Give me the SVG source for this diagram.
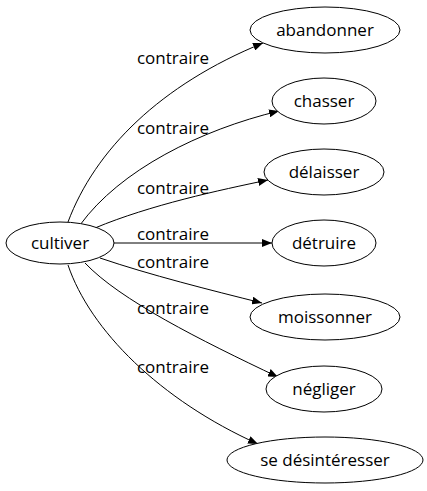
<svg xmlns="http://www.w3.org/2000/svg" width="427" height="491" viewBox="0 0 427 491">
<style>
text{font-family:"Open Sans","DejaVu Sans",sans-serif;font-size:17px;fill:#000;text-anchor:middle}
ellipse{fill:#fff;stroke:#000;stroke-width:1}
.e path{fill:none;stroke:#000;stroke-width:1}
</style>
<defs>
<marker id="a" markerWidth="10" markerHeight="8" refX="10" refY="4" orient="auto" markerUnits="userSpaceOnUse">
<path d="M0,0 L10,4 L0,8 Z" fill="#000"/>
</marker>
</defs>
<rect width="427" height="491" fill="#fff"/>
<g class="e" id="edges">
<path d="M68,222 C95,150 160,85 263,43" marker-end="url(#a)"/>
<path d="M80,225 C120,170 200,130 279,111" marker-end="url(#a)"/>
<path d="M95,228 C150,205 220,190 268,180" marker-end="url(#a)"/>
<path d="M113,243 L272,243" marker-end="url(#a)"/>
<path d="M100,258 C150,275 210,290 262,303" marker-end="url(#a)"/>
<path d="M85,263 C120,300 200,340 278,377" marker-end="url(#a)"/>
<path d="M68,265 C90,330 160,400 258,444" marker-end="url(#a)"/>
<text x="173" y="64">contraire</text>
<text x="173" y="134">contraire</text>
<text x="173" y="194">contraire</text>
<text x="173" y="240">contraire</text>
<text x="173" y="268">contraire</text>
<text x="173" y="314">contraire</text>
<text x="173" y="373">contraire</text>
</g>
<g id="cultiver"><ellipse cx="60" cy="243" rx="54" ry="21"/><text x="60" y="249">cultiver</text></g>
<g id="abandonner"><ellipse cx="325" cy="30" rx="75" ry="23"/><text x="325" y="36">abandonner</text></g>
<g id="chasser"><ellipse cx="324" cy="101" rx="52" ry="23"/><text x="324" y="107">chasser</text></g>
<g id="delaisser"><ellipse cx="324" cy="172" rx="60" ry="23"/><text x="324" y="178">délaisser</text></g>
<g id="detruire"><ellipse cx="324" cy="243" rx="52" ry="23"/><text x="324" y="249">détruire</text></g>
<g id="moissonner"><ellipse cx="325" cy="317" rx="75" ry="23"/><text x="325" y="323">moissonner</text></g>
<g id="negliger"><ellipse cx="324" cy="389" rx="58" ry="23"/><text x="324" y="395">négliger</text></g>
<g id="sedesinteresser"><ellipse cx="325" cy="460" rx="98" ry="23"/><text x="325" y="466">se désintéresser</text></g>
</svg>
